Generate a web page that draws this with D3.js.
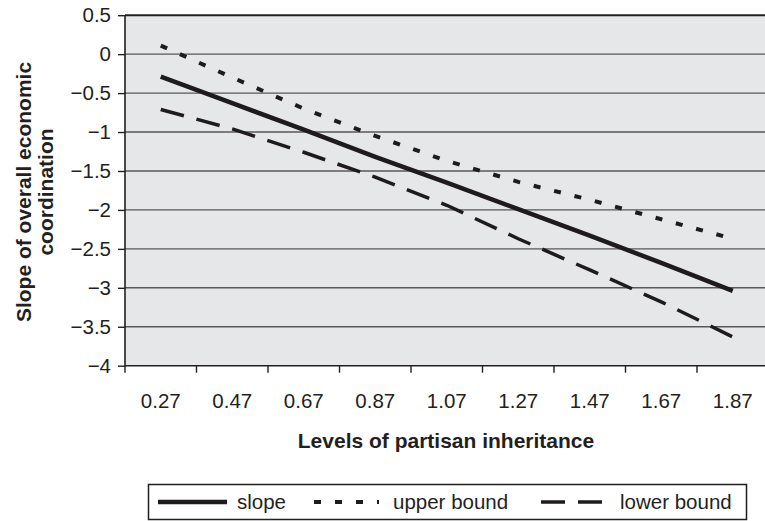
<!DOCTYPE html>
<html>
<head>
<meta charset="utf-8">
<script src="https://cdn.jsdelivr.net/npm/d3@7"></script>
<style>
  html, body { margin: 0; padding: 0; background: #fff; }
  svg { display: block; }
  text { font-family: "Liberation Sans", Arial, Helvetica, sans-serif; fill: #231f20; }
</style>
</head>
<body>
<svg id="chart" width="765" height="521"></svg>
<script>
// ---- data ----
const categories = ["0.27", "0.47", "0.67", "0.87", "1.07", "1.27", "1.47", "1.67", "1.87"];
const slope      = [-0.29, -0.63, -0.97, -1.32, -1.65, -1.99, -2.33, -2.68, -3.04];
const upperBound = [0.11, -0.30, -0.70, -1.05, -1.37, -1.64, -1.87, -2.12, -2.37];
const lowerBound = [-0.71, -0.96, -1.26, -1.58, -1.94, -2.37, -2.77, -3.18, -3.63];
const yTicks     = [0.5, 0, -0.5, -1, -1.5, -2, -2.5, -3, -3.5, -4];
const seriesNames = ["slope", "upper bound", "lower bound"];

const svg = d3.select("#chart");
const plot = { left: 125, right: 768.5, top: 15.2, bottom: 365.7 };

const x = d3.scaleBand().domain(categories).range([plot.left, plot.right]).padding(0);
const y = d3.scaleLinear().domain([-4, 0.5]).range([plot.bottom, plot.top]);

// background
svg.append("rect")
  .attr("x", plot.left).attr("y", plot.top)
  .attr("width", plot.right - plot.left).attr("height", plot.bottom - plot.top)
  .attr("fill", "#e6e7e9");

// gridlines
svg.append("g").selectAll("line").data(yTicks.filter(d => d !== -4)).join("line")
  .attr("x1", plot.left).attr("x2", plot.right)
  .attr("y1", d => y(d)).attr("y2", d => y(d))
  .attr("stroke", d => d === 0.5 ? "#231f20" : "#58585a")
  .attr("stroke-width", d => d === 0.5 ? 2 : 1.4);

// y axis
const yAxis = d3.axisLeft(y).tickValues(yTicks).tickSize(7).tickPadding(7)
  .tickFormat(d => d3.format("")(d).replace("-", "\u2212"));
const yg = svg.append("g").attr("transform", `translate(${plot.left},0)`).call(yAxis);
yg.select(".domain").attr("stroke", "#231f20").attr("stroke-width", 1.6).attr("d", `M0,${plot.top}V${plot.bottom}`);
yg.selectAll(".tick line").attr("stroke", "#231f20").attr("stroke-width", 1.4);
yg.selectAll(".tick text").attr("font-size", 20.5).attr("fill", "#231f20")
  .style("font-family", '"Liberation Sans", Arial, sans-serif');

// x axis: labels at band centres, ticks at band edges
const xAxis = d3.axisBottom(x).tickSize(0).tickPadding(28);
const xg = svg.append("g").attr("transform", `translate(0,${plot.bottom})`).call(xAxis);
xg.select(".domain").attr("stroke", "#231f20").attr("stroke-width", 1.6).attr("d", `M${plot.left},0H${plot.right}`);
xg.selectAll(".tick text").attr("font-size", 20.5).attr("fill", "#231f20")
  .style("font-family", '"Liberation Sans", Arial, sans-serif');
const edges = categories.map(c => x(c)).concat([plot.right]);
svg.append("g").selectAll("line").data(edges).join("line")
  .attr("x1", d => d).attr("x2", d => d)
  .attr("y1", plot.bottom).attr("y2", plot.bottom + 7)
  .attr("stroke", "#231f20").attr("stroke-width", 1.4);

// axis titles
svg.append("text")
  .attr("x", 446).attr("y", 448)
  .attr("text-anchor", "middle").attr("font-size", 21).attr("font-weight", "bold")
  .text("Levels of partisan inheritance");
const yt = svg.append("text")
  .attr("transform", "translate(0,192) rotate(-90)")
  .attr("text-anchor", "middle").attr("font-size", 21).attr("font-weight", "bold");
yt.append("tspan").attr("x", 0).attr("y", 31).text("Slope of overall economic");
yt.append("tspan").attr("x", 0).attr("y", 53).text("coordination");

// lines
const styles = [
  { data: slope, width: 4.5, dash: null },
  { data: upperBound, width: 4, dash: "7,14" },
  { data: lowerBound, width: 3.5, dash: "24,13" }
];
const line = d3.line().x((d, i) => x(categories[i]) + x.bandwidth() / 2).y(d => y(d));
svg.append("g").selectAll("path").data(styles).join("path")
  .attr("d", s => line(s.data))
  .attr("fill", "none").attr("stroke", "#1f1b1c")
  .attr("stroke-width", s => s.width)
  .attr("stroke-dasharray", s => s.dash);

// legend
const lg = svg.append("g");
lg.append("rect").attr("x", 148.5).attr("y", 484.5).attr("width", 598).attr("height", 35)
  .attr("fill", "#fff").attr("stroke", "#231f20").attr("stroke-width", 1.5);
const legendPos = [
  { x1: 158, x2: 227, tx: 237 },
  { x1: 314, x2: 379, tx: 393 },
  { x1: 541, x2: 604, tx: 620 }
];
seriesNames.forEach((name, i) => {
  const p = legendPos[i];
  lg.append("line").attr("x1", p.x1).attr("x2", p.x2).attr("y1", 502).attr("y2", 502)
    .attr("stroke", "#1f1b1c").attr("stroke-width", styles[i].width)
    .attr("stroke-dasharray", styles[i].dash);
  lg.append("text").attr("x", p.tx).attr("y", 509).attr("font-size", 20.5).text(name);
});
</script>
</body>
</html>
